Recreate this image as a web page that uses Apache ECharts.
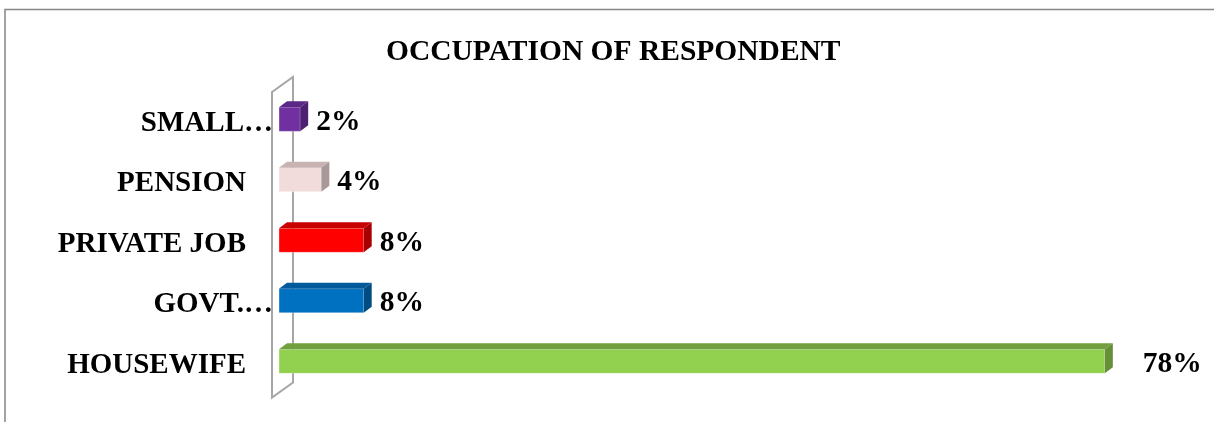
<!DOCTYPE html>
<html>
<head>
<meta charset="utf-8">
<script src="https://cdn.jsdelivr.net/npm/echarts@6/dist/echarts.min.js"></script>
<style>
  html, body { margin: 0; padding: 0; background: #fff; }
  #chart { width: 1214px; height: 422px; }
</style>
</head>
<body>
<div id="chart"></div>
<script>
// categories bottom -> top (category axis starts at the bottom)
const categories = ['HOUSEWIFE', 'GOVT.\u2026', 'PRIVATE JOB', 'PENSION', 'SMALL\u2026'];
const shares = [78, 8, 8, 4, 2];
const truncated = [false, true, false, false, true];

// front / top / side colours for each bar
const palette = [
	{ front: '#92D050', top: '#739f3f', side: '#668f38' },
	{ front: '#0070C0', top: '#005a9c', side: '#004b82' },
	{ front: '#FF0000', top: '#c80000', side: '#a80000' },
	{ front: '#F2DCDB', top: '#c7b3b2', side: '#a99898' },
	{ front: '#7030A0', top: '#5b2887', side: '#4d2172' },
];

const serif = "'Liberation Serif', 'Times New Roman', serif";
const DX = 8, DY = 6; // 3d depth of the bars

const chart = echarts.init(document.getElementById('chart'));

const renderBar = (params, api) => {
	const val = api.value(0);
	const cat = api.value(1);
	const s = api.coord([0, cat]);
	const e = api.coord([val, cat]);
	const h = api.size([0, 1])[1] * 0.4;
	const x0 = s[0], x1 = e[0];
	const yT = s[1] - h / 2, yB = s[1] + h / 2;
	const c = palette[params.dataIndex];
	const gap = val === Math.max(...shares) ? 30 : 8;
	return {
		type: 'group',
		children: [
			{ type: 'rect', shape: { x: x0, y: yT, width: x1 - x0, height: h }, style: { fill: c.front, stroke: 'rgba(255,255,255,0.35)', lineWidth: 1 } },
			{ type: 'polygon', shape: { points: [[x0, yT], [x0 + DX, yT - DY], [x1 + DX, yT - DY], [x1, yT]] }, style: { fill: c.top } },
			{ type: 'polygon', shape: { points: [[x1, yT], [x1 + DX, yT - DY], [x1 + DX, yB - DY], [x1, yB]] }, style: { fill: c.side } },
			{
				type: 'text',
				style: {
					x: x1 + DX + gap, y: s[1] + 3,
					text: val + '%',
					fill: '#000',
					font: 'bold 29.5px ' + serif,
					align: 'left', verticalAlign: 'middle',
				},
			},
		],
	};
};

const option = {
	animation: false,
	title: {
		text: 'OCCUPATION OF RESPONDENT',
		left: 381,
		top: 32,
		textStyle: { fontFamily: serif, fontWeight: 'bold', fontSize: 29.5, color: '#000' },
	},
	grid: { left: 279, right: 88, top: 89, bottom: 30.5 },
	xAxis: { type: 'value', min: 0, max: 80, show: false },
	yAxis: {
		type: 'category',
		data: categories,
		axisLine: { show: false },
		axisTick: { show: false },
		splitLine: { show: false },
		axisLabel: {
			margin: 6,
			formatter: (v, i) => (truncated[i] ? '{t|' + v + '}' : '{t|' + v + '}{sp|}'),
			rich: {
				t: { fontFamily: serif, fontWeight: 'bold', fontSize: 29, color: '#000', padding: [8, 0, 0, 0] },
				sp: { width: 27, padding: [8, 0, 0, 0] },
			},
		},
	},
	series: [
		{
			type: 'custom',
			renderItem: renderBar,
			encode: { x: 0, y: 1 },
			data: shares.map((v, i) => [v, i]),
			z: 3,
		},
	],
};
chart.setOption(option);

// chart frame and the back wall of the 3d plot
const x0 = chart.convertToPixel({ xAxisIndex: 0 }, 0);
const gTop = 89, gBot = 422 - 30.5;
chart.setOption({
	graphic: [
		{ type: 'polyline', shape: { points: [[5, 430], [5, 9.5], [1220, 9.5]] }, style: { stroke: '#858585', lineWidth: 1.5, fill: null }, z: 0 },
		{
			type: 'polygon',
			shape: { points: [[x0 - 7, gTop + 3], [x0 + 14, gTop - 12], [x0 + 14, gBot - 9], [x0 - 7, gBot + 6]] },
			style: { stroke: '#a6a6a6', lineWidth: 2, fill: '#fff' },
			z: 0,
		},
	],
});
</script>
</body>
</html>
